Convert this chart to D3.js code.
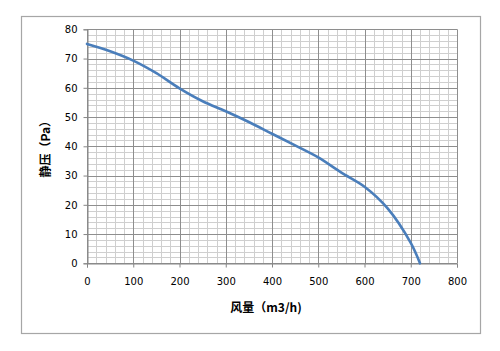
<!DOCTYPE html>
<html><head><meta charset="utf-8">
<script src="https://cdn.jsdelivr.net/npm/d3@7"></script>
<style>body{margin:0;background:#fff;}svg{display:block;}</style>
</head><body><svg id="c" width="500" height="351"></svg>
<script>
const flow = [0,50,100,150,200,250,300,350,400,450,500,550,600,650,700,720];
const pressure = [75,72.5,69.3,65,59.8,55.4,52,48.3,44.3,40.3,36.2,31,26.2,18.8,7,0];
const xTicks = [0,100,200,300,400,500,600,700,800];
const yTicks = [0,10,20,30,40,50,60,70,80];
const xLabel = "风量（m3/h)";
const yLabel = "静压（Pa）";

const svg = d3.select("#c");
const L = 87, R = 457, T = 29.3, B = 263.3;
const x = d3.scaleLinear().domain([0,800]).range([L,R]);
const y = d3.scaleLinear().domain([0,80]).range([B,T]);

svg.append("rect").attr("x",21.5).attr("y",16.5).attr("width",459).attr("height",317)
  .attr("fill","#fff").attr("stroke","#a6a6a6").attr("stroke-width",1.2);

const g = svg.append("g");
d3.range(0,801,20).filter(v=>v%100!==0).forEach(v=>{
  g.append("line").attr("x1",Math.round(x(v))+0.5).attr("x2",Math.round(x(v))+0.5).attr("y1",T).attr("y2",B)
   .attr("stroke","#cfcfcf").attr("stroke-width",1);
});
d3.range(0,81,2).filter(v=>v%10!==0).forEach(v=>{
  g.append("line").attr("y1",Math.round(y(v))+0.5).attr("y2",Math.round(y(v))+0.5).attr("x1",L).attr("x2",R)
   .attr("stroke","#cfcfcf").attr("stroke-width",1);
});
xTicks.forEach(v=>{
  g.append("line").attr("x1",Math.round(x(v))+0.5).attr("x2",Math.round(x(v))+0.5).attr("y1",T).attr("y2",B)
   .attr("stroke","#8e8e8e").attr("stroke-width",1);
});
yTicks.forEach(v=>{
  g.append("line").attr("y1",Math.round(y(v))+0.5).attr("y2",Math.round(y(v))+0.5).attr("x1",L).attr("x2",R)
   .attr("stroke","#8e8e8e").attr("stroke-width",1);
});

const xAxis = d3.axisBottom(x).tickValues(xTicks).tickSize(4).tickPadding(10).tickFormat(d3.format("d"));
const yAxis = d3.axisLeft(y).tickValues(yTicks).tickSize(4).tickPadding(6).tickFormat(d3.format("d"));
const ax = svg.append("g").attr("transform",`translate(0,${Math.round(B)+0.5})`).call(xAxis);
const ay = svg.append("g").attr("transform",`translate(${Math.round(L)+0.5},0)`).call(yAxis);
[ax,ay].forEach(a=>{
  a.select(".domain").attr("stroke","#868686");
  a.selectAll(".tick line").attr("stroke","#868686");
  a.selectAll("text").attr("font-family","DejaVu Sans, Verdana, sans-serif").attr("font-size",10).attr("fill","#000");
});

const line = d3.line().x((d,i)=>x(flow[i])).y(d=>y(d)).curve(d3.curveCatmullRom.alpha(0.5));
svg.append("path").datum(pressure).attr("d",line).attr("fill","none")
  .attr("stroke","#4a7ebb").attr("stroke-width",2.6).attr("stroke-linecap","round");

svg.append("text").attr("x",(L+R)/2 - 6).attr("y",312).attr("text-anchor","middle")
  .attr("font-family","Noto Sans CJK SC, sans-serif").attr("font-weight","bold").attr("font-size",12).text(xLabel);
svg.append("text").attr("transform",`translate(50,${(T+B)/2}) rotate(-90)`).attr("text-anchor","middle")
  .attr("font-family","Noto Sans CJK SC, sans-serif").attr("font-weight","bold").attr("font-size",12).text(yLabel);
</script></body></html>
